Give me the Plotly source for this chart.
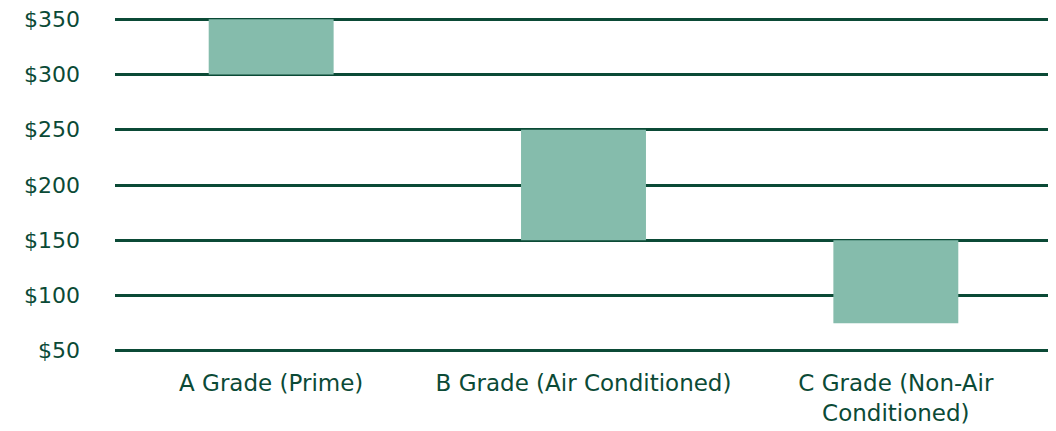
import plotly.graph_objects as go

categories = ["A Grade (Prime)", "B Grade (Air Conditioned)", "C Grade (Non-Air<br>Conditioned)"]
low_values = [300, 150, 75]
high_values = [350, 250, 150]
tick_values = [50, 100, 150, 200, 250, 300, 350]
tick_labels = ["$50", "$100", "$150", "$200", "$250", "$300", "$350"]

dark = "#0b4a36"
bar_color = "#85bcac"
yfnt = dict(family="DejaVu Sans, sans-serif", size=22, color=dark)
xfnt = dict(family="DejaVu Sans, sans-serif", size=23, color=dark)

fig = go.Figure()
fig.add_trace(go.Bar(
    x=categories,
    y=[h - l for h, l in zip(high_values, low_values)],
    base=low_values,
    marker=dict(color=bar_color, line=dict(width=0)),
    width=0.4,
    hoverinfo="skip",
))

fig.update_layout(
    width=1048, height=423,
    margin=dict(l=107, r=4, t=9, b=78),
    paper_bgcolor="white", plot_bgcolor="white",
    showlegend=False,
    font=yfnt,
)
fig.update_yaxes(
    range=[48, 352],
    tickvals=tick_values, ticktext=tick_labels,
    showgrid=True, gridcolor=dark, gridwidth=2.5,
    zeroline=False, showline=False,
    ticklabelstandoff=34, automargin=False,
    ticklabeloverflow="allow",
    tickfont=yfnt,
)
fig.update_xaxes(
    showgrid=False, showline=False, zeroline=False,
    ticklabelstandoff=14, automargin=False,
    ticklabeloverflow="allow",
    tickfont=xfnt,
)

fig.write_html("out.html")
